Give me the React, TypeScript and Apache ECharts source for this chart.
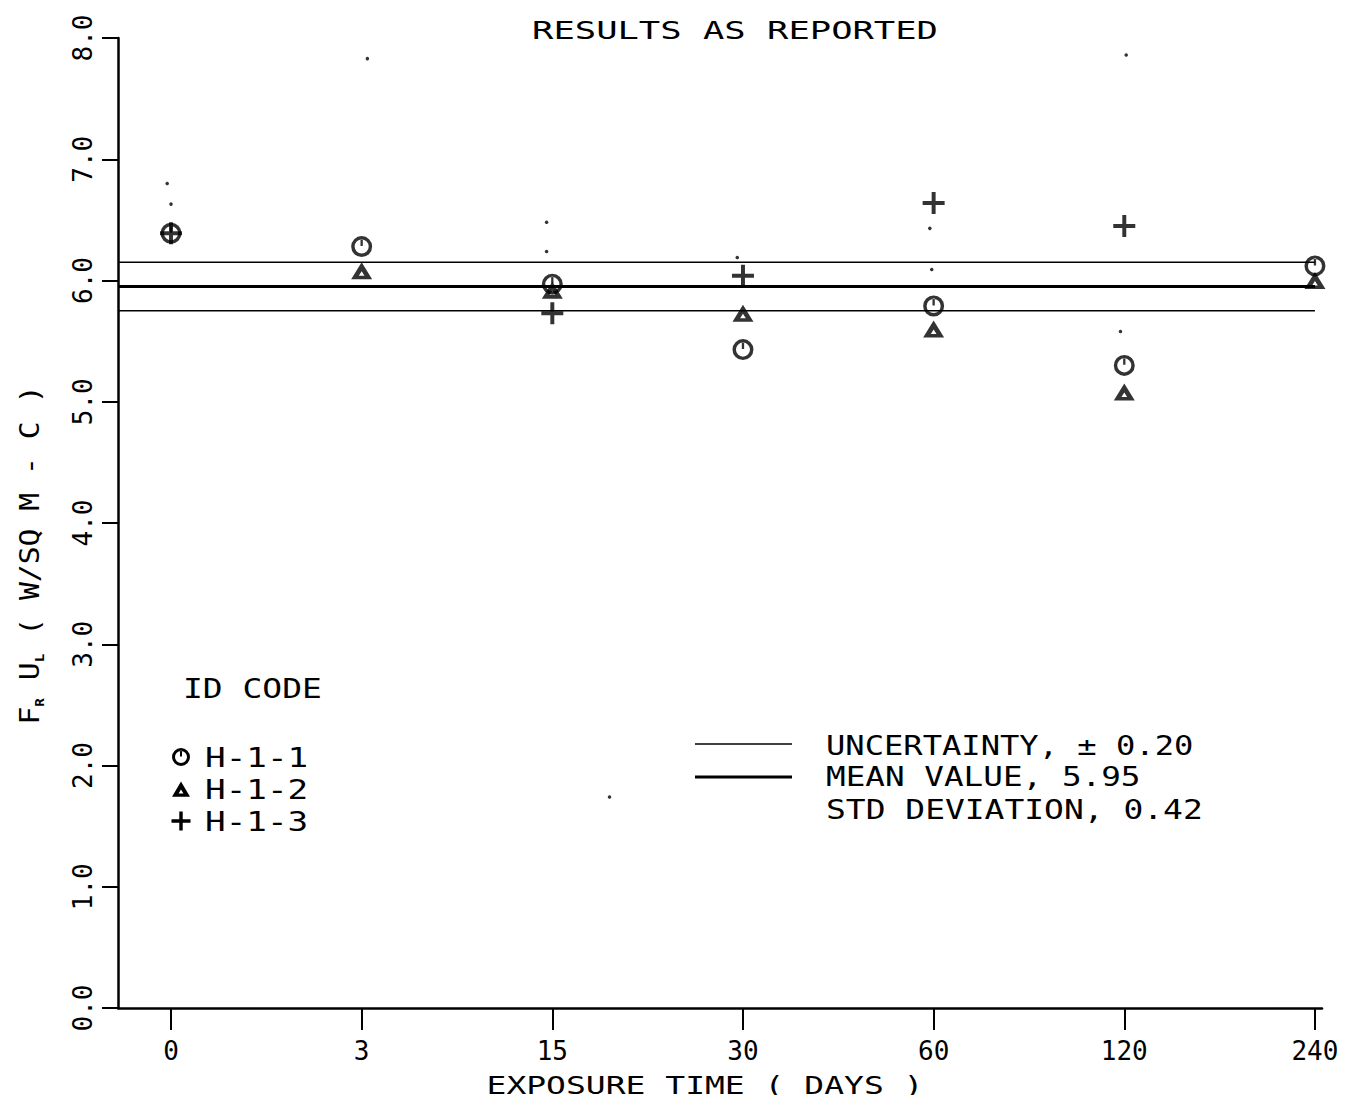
import React, { useEffect, useRef } from "react";
import * as echarts from "echarts";

// ---- data ----
const CATEGORIES = ["0", "3", "15", "30", "60", "120", "240"]; // exposure time (days)
const H11: (number | null)[] = [6.39, 6.28, 5.97, 5.43, 5.79, 5.3, 6.12];
const H12: (number | null)[] = [null, 6.08, 5.92, 5.73, 5.6, 5.08, 6.0];
const H13: (number | null)[] = [6.39, null, 5.73, 6.04, 6.64, 6.45, null];
const MEAN = 5.95;
const UNCERTAINTY = 0.2;
const STD_DEV = 0.42;
// small stray specks on the scanned plot: [category position, value]
const SPECKS: [number, number][] = [
  [-0.02, 6.8],
  [0.0, 6.63],
  [1.03, 7.83],
  [5.01, 7.86],
  [1.97, 6.48],
  [1.97, 6.24],
  [2.97, 6.19],
  [3.98, 6.43],
  [3.99, 6.09],
  [4.98, 5.58],
  [2.3, 1.74],
];
const Y_MIN = 0;
const Y_MAX = 8;
const Y_STEP = 1;
const X_MIN = -0.278;
const X_MAX = 6.037;

const FONT = "DejaVu Sans Mono";
const INK = "#000";

const CIRCLE_D =
  "M0,10 A10,10 0 1,0 20,10 A10,10 0 1,0 0,10 Z M3.3,10 A6.7,6.7 0 1,1 16.7,10 A6.7,6.7 0 1,1 3.3,10 Z M8.9,3 L11.1,3 L11.1,9.5 L8.9,9.5 Z";
const TRI_D = "M10,0 L20,18 L0,18 Z M10,9.5 L7.3,14.2 L12.7,14.2 Z";
const PLUS_D =
  "M8.2,0 L11.8,0 L11.8,8.2 L20,8.2 L20,11.8 L11.8,11.8 L11.8,20 L8.2,20 L8.2,11.8 L0,11.8 L0,8.2 L8.2,8.2 Z";

let registered = false;
function registerShapes() {
  if (registered) return;
  registered = true;
  echarts.graphic.registerShape("symCircle", echarts.graphic.extendPath(CIRCLE_D, {}));
  echarts.graphic.registerShape("symTri", echarts.graphic.extendPath(TRI_D, {}));
  echarts.graphic.registerShape("symPlus", echarts.graphic.extendPath(PLUS_D, {}));
}

const toPairs = (arr: (number | null)[]) =>
  arr.map((v, i) => (v == null ? null : [i, v])).filter((d) => d != null);

export default function App() {
  const ref = useRef<HTMLDivElement>(null);
  useEffect(() => {
    if (!ref.current) return;
    registerShapes();
    const chart = echarts.init(ref.current, undefined, { renderer: "svg" });
    const idx = CATEGORIES.map((_, i) => i);
    const lineSeries = (name: string, v: number, w: number) => ({
      name,
      type: "line",
      data: [
        [X_MIN, v],
        [CATEGORIES.length - 1, v],
      ],
      symbol: "none",
      lineStyle: { color: INK, width: w },
      silent: true,
      z: 1,
    });
    const legendText = (text: string, x: number, y: number, size = 27, sx = 1.2) => ({
      type: "text",
      x,
      y,
      scaleX: sx,
      style: {
        text,
        font: `${size}px "${FONT}"`,
        fill: INK,
        textAlign: "left",
        textVerticalAlign: "middle",
        verticalAlign: "middle",
      },
    });
    const sym = (type: string, cx: number, cy: number, s: number, sy = s) => ({
      type,
      x: cx - 10 * s,
      y: cy - 10 * sy,
      scaleX: s,
      scaleY: sy,
      style: { fill: INK },
    });
    chart.setOption({
      animation: false,
      backgroundColor: "#fff",
      grid: { left: 118, right: 35, top: 38, bottom: 95, containLabel: false },
      xAxis: {
        type: "value",
        min: X_MIN,
        max: X_MAX,
        axisLine: { show: true, onZero: false, lineStyle: { color: INK, width: 2.5 } },
        axisTick: {
          show: true,
          customValues: idx,
          inside: false,
          length: 22,
          lineStyle: { color: INK, width: 2 },
        },
        axisLabel: {
          customValues: idx,
          formatter: (v: number) => CATEGORIES[Math.round(v)],
          fontFamily: FONT,
          fontSize: 26,
          color: INK,
          margin: 30,
        },
        splitLine: { show: false },
      },
      yAxis: {
        type: "value",
        min: Y_MIN,
        max: Y_MAX,
        interval: Y_STEP,
        axisLine: { show: true, onZero: false, lineStyle: { color: INK, width: 2.5 } },
        axisTick: { show: true, length: 16, lineStyle: { color: INK, width: 2 } },
        axisLabel: {
          rotate: 90,
          formatter: (v: number) => v.toFixed(1),
          fontFamily: FONT,
          fontSize: 26,
          color: INK,
          margin: 22,
        },
        splitLine: { show: false },
      },
      series: [
        lineSeries("Upper limit", MEAN + UNCERTAINTY, 1.6),
        lineSeries("Mean", MEAN, 3),
        lineSeries("Lower limit", MEAN - UNCERTAINTY, 1.6),
        {
          name: "H-1-1",
          type: "scatter",
          data: toPairs(H11),
          symbol: "path://" + CIRCLE_D,
          symbolSize: 21,
          itemStyle: { color: INK },
          z: 3,
        },
        {
          name: "H-1-2",
          type: "scatter",
          data: toPairs(H12),
          symbol: "path://" + TRI_D,
          symbolSize: [21, 17],
          itemStyle: { color: INK },
          z: 3,
        },
        {
          name: "H-1-3",
          type: "scatter",
          data: toPairs(H13),
          symbol: "path://" + PLUS_D,
          symbolSize: 22,
          itemStyle: { color: INK },
          z: 3,
        },
        {
          name: "specks",
          type: "scatter",
          data: SPECKS,
          symbol: "circle",
          symbolSize: 3.5,
          itemStyle: { color: INK },
          z: 2,
        },
      ],
      graphic: [
        {
          type: "text",
          x: 735,
          y: 30,
          scaleX: 1.42,
          style: {
            text: "RESULTS AS REPORTED",
            font: `25px "${FONT}"`,
            fill: INK,
            textAlign: "center",
            textVerticalAlign: "middle",
            verticalAlign: "middle",
          },
        },
        {
          type: "text",
          x: 705,
          y: 1085,
          scaleX: 1.32,
          style: {
            text: "EXPOSURE TIME ( DAYS )",
            font: `25px "${FONT}"`,
            fill: INK,
            textAlign: "center",
            textVerticalAlign: "middle",
            verticalAlign: "middle",
          },
        },
        {
          type: "text",
          x: 30,
          y: 555,
          rotation: Math.PI / 2,
          scaleX: 1.1,
          style: {
            text: "{n|F}{s|R}{n| U}{s|L}{n| ( W/SQ M - C )}",
            fill: INK,
            textAlign: "center",
            textVerticalAlign: "middle",
            verticalAlign: "middle",
            rich: {
              n: { fontFamily: FONT, fontSize: 27, color: INK, lineHeight: 32, verticalAlign: "middle" },
              s: { fontFamily: FONT, fontSize: 13, color: INK, lineHeight: 32, verticalAlign: "bottom", fontWeight: "bold" },
            },
          },
        },
        legendText("ID CODE", 183, 689, 27, 1.22),
        sym("symCircle", 181, 757, 0.9),
        legendText("H-1-1", 205, 757, 27, 1.27),
        sym("symTri", 181, 790, 0.9, 0.85),
        legendText("H-1-2", 205, 789, 27, 1.27),
        sym("symPlus", 181, 821, 0.95),
        legendText("H-1-3", 205, 821, 27, 1.27),
        {
          type: "line",
          shape: { x1: 695, y1: 744, x2: 792, y2: 744 },
          style: { stroke: INK, lineWidth: 1.6 },
        },
        {
          type: "line",
          shape: { x1: 695, y1: 777, x2: 792, y2: 777 },
          style: { stroke: INK, lineWidth: 3 },
        },
        legendText(`UNCERTAINTY, \u00b1 ${UNCERTAINTY.toFixed(2)}`, 826, 745, 27, 1.19),
        legendText(`MEAN VALUE, ${MEAN.toFixed(2)}`, 826, 777, 27, 1.21),
        legendText(`STD DEVIATION, ${STD_DEV.toFixed(2)}`, 826, 810, 27, 1.22),
      ],
    });
    return () => chart.dispose();
  }, []);
  return <div ref={ref} style={{ width: 1357, height: 1103, margin: -8 }} />;
}
